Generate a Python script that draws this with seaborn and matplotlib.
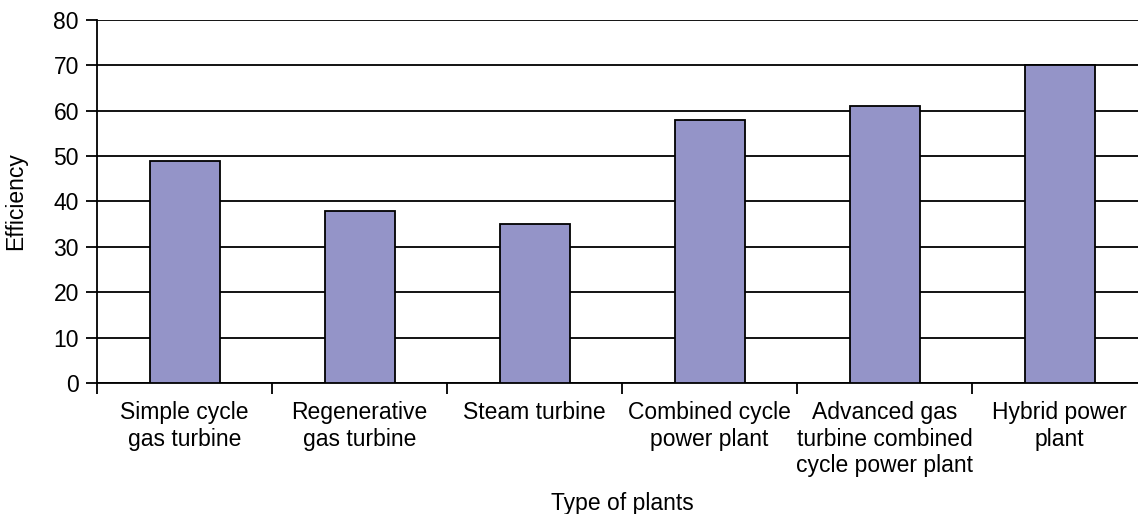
import numpy as np
import pandas as pd
import seaborn as sns
import matplotlib.pyplot as plt

plants = ["Simple cycle\ngas turbine", "Regenerative\ngas turbine", "Steam turbine",
          "Combined cycle\npower plant", "Advanced gas\nturbine combined\ncycle power plant",
          "Hybrid power\nplant"]
efficiency = [49, 38, 35, 58, 61, 70]
yticks = [0, 10, 20, 30, 40, 50, 60, 70, 80]

df = pd.DataFrame({"plant": plants, "efficiency": efficiency})

sns.set_style("white")
plt.rcParams["font.family"] = ["Liberation Sans", "DejaVu Sans"]
plt.rcParams["text.color"] = "black"
plt.rcParams["xtick.color"] = "black"
plt.rcParams["ytick.color"] = "black"
plt.rcParams["axes.labelcolor"] = "black"

fs = 16.5

fig = plt.figure(figsize=(11.38, 5.14), dpi=100)
# axis runs a bit past the right edge, as in the original crop
ax = fig.add_axes([97 / 1138, 131 / 514, 1050 / 1138, 363 / 514])

sns.barplot(data=df, x="plant", y="efficiency", color="#9494c8", saturation=1,
            width=0.4, edgecolor="black", linewidth=1.3, ax=ax, zorder=3)

ax.set_xlim(-0.5, 5.5)
ax.set_ylim(0, 80)
ax.set_yticks(yticks)
ax.yaxis.grid(True, color="black", linewidth=1.3)
ax.set_axisbelow(True)

for s in ["top", "right"]:
    ax.spines[s].set_visible(False)
for s in ["left", "bottom"]:
    ax.spines[s].set_color("black")
    ax.spines[s].set_linewidth(1.3)

ax.set_xticks(np.arange(-0.5, 6, 1), minor=True)
ax.tick_params(axis="x", which="major", length=0, pad=13, labelsize=fs)
ax.tick_params(axis="x", which="minor", length=8, width=1.3, direction="out", bottom=True)
ax.tick_params(axis="y", length=8, width=1.3, direction="out", left=True, pad=5, labelsize=fs)
for lab in ax.get_xticklabels():
    lab.set_linespacing(1.2)

ax.set_xlabel("Type of plants", fontsize=fs)
ax.set_ylabel("Efficiency", fontsize=fs)
ax.xaxis.set_label_coords(525 / 1050, -109 / 363)
ax.yaxis.set_label_coords(-70 / 1050, 0.5)

fig.savefig("out.png", dpi=100)
